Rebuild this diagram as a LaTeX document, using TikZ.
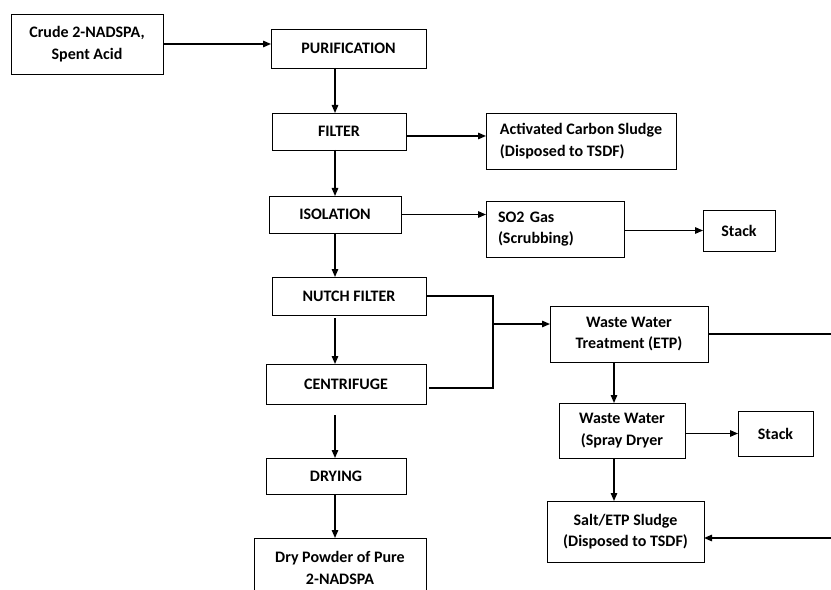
\documentclass[tikz,border=0pt]{standalone}
\usepackage{fontspec}
\setmainfont{Carlito}
\usetikzlibrary{
    arrows.meta,
    calc,
    positioning
}
\tikzset{
    every picture/.style = {
        > = {Triangle[length = 8bp, width = 6.5bp]}
    },
    proc/.style = {
        draw,
        line width = 0.9bp,
        inner sep = 2bp,
        outer sep = 0pt,
        fill = white,
        align = center
    },
    flow/.style = {
        line width = 1.4bp
    }
}

\begin{document}
\begin{tikzpicture}[x = 1bp, y = -1bp, node font = {\fontsize{16bp}{21.5bp}\selectfont\bfseries}]
    \path[use as bounding box, fill = white] (0,0) rectangle (831,590);

    \coordinate (spine) at (335,0);
    \coordinate (wcol) at (614,0);
    \coordinate (rim) at (860,0);
    \coordinate (merge) at (493,324);

    \node[proc, minimum width = 152bp, minimum height = 60bp] (crude) at (87,44) {Crude 2-NADSPA,\\Spent Acid};
    \node[proc, minimum width = 155bp, minimum height = 39bp] (purif) at (348.5,48.5) {PURIFICATION};
    \node[proc, minimum width = 134bp, minimum height = 37bp] (filter) at (339,131.5) {FILTER};
    \node[proc, align = left, minimum width = 190bp, minimum height = 56bp] (carbon) at (581,141) {Activated Carbon Sludge\\(Disposed to TSDF)};
    \node[proc, minimum width = 132bp, minimum height = 37bp] (isol) at (335,214.5) {ISOLATION};
    \node[proc, align = left, text width = 114bp, inner xsep = 12bp, minimum height = 56bp] (so2) at (555,229) {SO2 Gas\\(Scrubbing)};
    \node[proc, minimum width = 72bp, minimum height = 41bp] (stackA) at (739,230.5) {Stack};
    \node[proc, minimum width = 154bp, minimum height = 38bp] (nutch) at (349,296) {NUTCH FILTER};
    \node[proc, minimum width = 158bp, minimum height = 56bp] (wwt) at (629,334) {Waste Water\\Treatment (ETP)};
    \node[proc, minimum width = 160bp, minimum height = 40bp] (centr) at (346,384) {CENTRIFUGE};
    \node[proc, minimum width = 126bp, minimum height = 55bp] (spray) at (622,430.5) {Waste Water\\(Spray Dryer};
    \node[proc, minimum width = 75bp, minimum height = 45bp] (stackB) at (775.5,433.5) {Stack};
    \node[proc, minimum width = 140bp, minimum height = 36bp] (dry) at (336,476) {DRYING};
    \node[proc, minimum width = 157bp, minimum height = 61bp] (salt) at (625.5,531.5) {Salt/ETP Sludge\\(Disposed to TSDF)};
    \node[proc, minimum width = 172bp, minimum height = 60bp] (powder) at (340,568) {Dry Powder of Pure\\2-NADSPA};

    \draw[flow, ->] (crude.east) -- (crude.east -| purif.west);
    \draw[flow, ->] (purif.south -| spine) -- (filter.north -| spine);
    \draw[flow, ->] (filter.south -| spine) -- (isol.north -| spine);
    \draw[flow, ->] (isol.south -| spine) -- (nutch.north -| spine);
    \draw[flow, ->, shorten <= 3bp] (nutch.south -| spine) -- (centr.north -| spine);
    \draw[flow, ->, shorten <= 11bp] (centr.south -| spine) -- (dry.north -| spine);
    \draw[flow, ->] (dry.south -| spine) -- (powder.north -| spine);

    \draw[flow, ->] ([yshift = -4.5bp]filter.east) -- ([yshift = -4.5bp]filter.east -| carbon.west);
    \draw[flow, ->] (isol.east) -- (isol.east -| so2.west);
    \draw[flow, ->] (so2.east |- stackA) -- (stackA.west);

    \draw[flow] (nutch.east) -| (merge) |- ([xshift = 3bp, yshift = -4bp]centr.east);
    \draw[flow, ->] (merge) -- (merge -| wwt.west);
    \draw[flow, ->] (wwt.east) -- (wwt.east -| rim) |- ([yshift = -6.5bp]salt.east);

    \draw[flow, ->] (wwt.south -| wcol) -- (spray.north -| wcol);
    \draw[flow, ->] (spray.east |- stackB) -- (stackB.west);
    \draw[flow, ->] (spray.south -| wcol) -- (salt.north -| wcol);
\end{tikzpicture}
\end{document}
